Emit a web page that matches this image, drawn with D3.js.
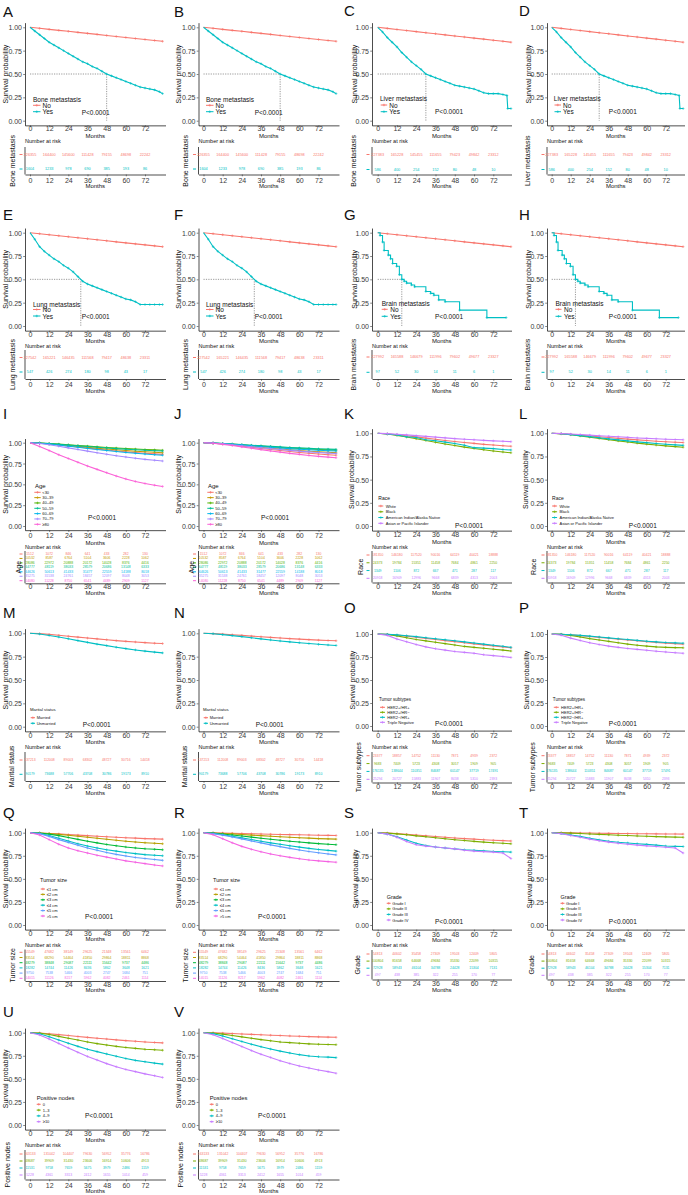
<!DOCTYPE html>
<html><head><meta charset="utf-8">
<script src="https://cdn.jsdelivr.net/npm/d3@7"></script>
<style>
body{margin:0;background:#fff;}
</style></head><body>
<svg id="fig" width="688" height="1195"></svg>
<script>
// ---------------- DATA ----------------
const xTicks = [0,12,24,36,48,60,72];
const yTicks = [0,0.25,0.5,0.75,1];
const riskMonths = [0,12,24,36,48,60,72];
const monthsGrid = [0,6,12,18,24,30,36,42,48,54,60,66,72,78,83];
const monthsFine = [0,3,6,9,12,15,18,21,24,27,30,33,36,39,42,45,48,51,54,57,60,63,66,69,72,75,78,81,83];
const monthsLiver = [0,3,6,9,12,15,18,21,24,27,30,33,36,39,42,45,48,51,54,57,60,63,66,69,72,75,78,80.5,81,83];
const monthsBrain = [0,1.5,3,4,6.6,8,9.3,11.8,13.5,15,16.5,18,21,23,30,33,35,38,42,51,68,80];

const pal2 = ["#F8766D","#00BFC4"];
const pal4 = ["#F8766D","#7CAE00","#00BFC4","#C77CFF"];
const pal6 = ["#F8766D","#B79F00","#00BA38","#00BFC4","#619CFF","#F564E3"];
const pal7 = ["#F8766D","#C49A00","#53B400","#00C094","#00B6EB","#A58AFF","#FB61D7"];

const strataMet = ["No","Yes"];
const strataAge = ["<30","30\u201339","40\u201349","50\u201359","60\u201369","70\u201379","\u226580"];
const strataRace = ["White","Black","American Indian/Alaska Native","Asian or Pacific Islander"];
const strataMarital = ["Married","Unmarried"];
const strataSubtype = ["HER2+/HR+","HER2+/HR\u2212","HER2\u2212/HR+","Triple Negative"];
const strataSize = ["\u22641 cm","\u22642 cm","\u22643 cm","\u22644 cm","\u22645 cm",">5 cm"];
const strataGrade = ["Grade I","Grade II","Grade III","Grade IV"];
const strataNodes = ["0","1\u20133","4\u20139","\u226510"];

const boneNo = [1,.989,.978,.967,.957,.946,.935,.924,.913,.902,.891,.880,.870,.859,.85];
const boneYes = [1,.96,.92,.88,.84,.81,.78,.75,.72,.69,.66,.63,.61,.58,.56,.53,.50,.48,.46,.44,.42,.40,.38,.36,.35,.34,.33,.31,.29];
const liverNo = [1,.988,.977,.965,.954,.942,.931,.919,.907,.896,.884,.873,.861,.850,.84];
const liverYes = [1,.95,.89,.84,.79,.73,.68,.63,.59,.55,.50,.48,.46,.44,.42,.40,.38,.37,.36,.35,.34,.32,.30,.29,.29,.29,.28,.27,.13,.13];
const lungNo = [1,.989,.978,.967,.957,.946,.935,.924,.913,.902,.891,.880,.870,.859,.85];
const lungYes = [1,.93,.85,.80,.76,.72,.69,.65,.62,.58,.53,.48,.45,.43,.41,.39,.37,.35,.33,.31,.29,.28,.26,.23,.23,.23,.23,.23,.23];
const brainNo = [1,.989,.978,.967,.957,.946,.935,.924,.913,.902,.891,.880,.870,.859,.85];
const brainYes = [1,.97,.90,.81,.76,.72,.67,.64,.55,.50,.48,.46,.44,.42,.37,.35,.33,.28,.26,.17,.09,.09];

const ageOS = [
 [1,.994,.985,.973,.961,.948,.936,.923,.912,.901,.891,.881,.873,.866,.86],
 [1,.995,.987,.977,.966,.956,.945,.934,.924,.915,.906,.898,.891,.885,.88],
 [1,.996,.990,.983,.975,.967,.959,.951,.943,.936,.930,.924,.918,.914,.91],
 [1,.996,.989,.981,.972,.963,.954,.945,.937,.929,.922,.915,.909,.904,.90],
 [1,.994,.984,.972,.958,.945,.931,.918,.906,.894,.883,.873,.864,.856,.85],
 [1,.991,.976,.958,.938,.919,.899,.879,.861,.844,.828,.813,.800,.789,.78],
 [1,.955,.905,.855,.81,.765,.72,.68,.64,.60,.565,.535,.51,.49,.475]];
const ageCSS = [
 [1,.994,.984,.972,.958,.945,.931,.918,.906,.894,.883,.873,.864,.856,.85],
 [1,.995,.987,.977,.966,.956,.945,.934,.924,.915,.906,.898,.891,.885,.88],
 [1,.996,.990,.983,.975,.967,.959,.951,.943,.936,.930,.924,.918,.914,.91],
 [1,.997,.991,.985,.978,.970,.963,.956,.950,.943,.938,.932,.927,.923,.92],
 [1,.996,.989,.981,.972,.963,.954,.945,.937,.929,.922,.915,.909,.904,.90],
 [1,.995,.986,.975,.964,.952,.940,.929,.918,.908,.899,.890,.882,.875,.87],
 [1,.993,.980,.966,.950,.933,.917,.901,.887,.872,.860,.847,.836,.827,.82]];
const raceOS = [
 [1,.994,.985,.973,.961,.948,.936,.923,.912,.901,.891,.881,.873,.866,.86],
 [1,.992,.977,.960,.941,.922,.903,.884,.868,.851,.836,.822,.809,.798,.79],
 [1,.993,.982,.962,.955,.93,.92,.905,.89,.872,.845,.84,.835,.825,.82],
 [1,.996,.990,.983,.975,.967,.959,.951,.943,.936,.930,.924,.918,.914,.91]];
const raceCSS = [
 [1,.996,.989,.981,.972,.963,.954,.945,.937,.929,.922,.915,.909,.904,.90],
 [1,.994,.984,.972,.958,.945,.931,.918,.906,.894,.883,.873,.864,.856,.85],
 [1,.995,.986,.975,.964,.952,.940,.929,.918,.908,.899,.890,.882,.875,.87],
 [1,.997,.992,.987,.980,.974,.968,.962,.956,.950,.945,.941,.936,.933,.93]];
const maritalOS = [
 [1,.996,.988,.979,.969,.959,.949,.940,.931,.922,.914,.907,.900,.894,.89],
 [1,.992,.977,.960,.941,.922,.903,.884,.868,.851,.836,.822,.809,.798,.79]];
const maritalCSS = [
 [1,.997,.991,.985,.978,.970,.963,.956,.950,.943,.938,.932,.927,.923,.92],
 [1,.995,.986,.975,.964,.952,.940,.929,.918,.908,.899,.890,.882,.875,.87]];
const subtypeOS = [
 [1,.996,.988,.977,.965,.952,.94,.928,.917,.905,.893,.882,.871,.86,.85],
 [1,.995,.98,.96,.94,.925,.91,.895,.88,.865,.855,.845,.835,.825,.815],
 [1,.997,.99,.981,.971,.96,.949,.938,.926,.914,.902,.89,.878,.866,.855],
 [1,.985,.945,.915,.885,.86,.84,.825,.81,.80,.79,.775,.765,.755,.745]];
const subtypeCSS = [
 [1,.997,.99,.982,.973,.963,.954,.944,.935,.926,.917,.909,.901,.895,.89],
 [1,.996,.985,.968,.95,.935,.92,.905,.89,.878,.868,.86,.855,.852,.85],
 [1,.998,.992,.985,.977,.968,.958,.949,.94,.931,.922,.914,.907,.903,.90],
 [1,.987,.955,.93,.905,.885,.868,.855,.843,.833,.823,.813,.805,.797,.79]];
const sizeOS = [
 [1,.997,.992,.987,.980,.974,.968,.962,.956,.950,.945,.941,.936,.933,.93],
 [1,.997,.991,.982,.972,.962,.951,.94,.929,.918,.908,.899,.891,.885,.88],
 [1,.995,.985,.968,.948,.928,.908,.89,.873,.858,.845,.835,.826,.82,.815],
 [1,.992,.97,.94,.91,.88,.855,.835,.815,.80,.785,.773,.762,.755,.75],
 [1,.99,.96,.925,.895,.865,.835,.81,.785,.765,.748,.732,.72,.71,.70],
 [1,.975,.925,.875,.835,.805,.78,.755,.735,.715,.695,.68,.665,.65,.64]];
const sizeCSS = [
 [1,.999,.997,.994,.992,.989,.986,.984,.981,.979,.977,.975,.973,.971,.97],
 [1,.997,.992,.987,.980,.974,.968,.962,.956,.950,.945,.941,.936,.933,.93],
 [1,.995,.986,.975,.964,.952,.940,.929,.918,.908,.899,.890,.882,.875,.87],
 [1,.992,.978,.962,.944,.926,.908,.89,.874,.858,.844,.83,.818,.808,.80],
 [1,.990,.974,.954,.933,.911,.890,.868,.849,.830,.813,.796,.782,.770,.76],
 [1,.978,.935,.89,.852,.82,.793,.77,.75,.733,.718,.705,.695,.687,.68]];
const gradeOS = [
 [1,.996,.990,.983,.975,.967,.959,.951,.943,.936,.930,.924,.918,.914,.91],
 [1,.995,.987,.977,.966,.956,.945,.934,.924,.915,.906,.898,.891,.885,.88],
 [1,.985,.955,.92,.885,.86,.845,.835,.825,.815,.81,.803,.797,.793,.79],
 [1,.985,.95,.905,.87,.855,.845,.835,.825,.81,.80,.795,.79,.78,.72]];
const gradeCSS = [
 [1,.999,.998,.997,.996,.994,.993,.992,.991,.989,.988,.987,.986,.986,.985],
 [1,.998,.995,.991,.986,.982,.977,.973,.969,.965,.961,.958,.955,.952,.95],
 [1,.99,.975,.96,.94,.922,.908,.897,.889,.881,.874,.865,.856,.852,.85],
 [1,.99,.97,.95,.93,.912,.898,.885,.875,.865,.857,.85,.843,.835,.78]];
const nodesOS = [
 [1,.996,.988,.979,.969,.959,.949,.940,.931,.922,.914,.907,.900,.894,.89],
 [1,.995,.98,.96,.94,.92,.90,.882,.866,.852,.84,.83,.82,.815,.81],
 [1,.988,.957,.92,.885,.852,.82,.795,.77,.745,.72,.70,.685,.67,.66],
 [1,.976,.932,.884,.835,.787,.743,.704,.665,.631,.602,.578,.554,.534,.515]];
const nodesCSS = [
 [1,.998,.995,.991,.986,.982,.977,.973,.969,.965,.961,.958,.955,.952,.95],
 [1,.996,.985,.97,.955,.94,.925,.912,.9,.892,.885,.879,.875,.872,.87],
 [1,.99,.965,.935,.905,.875,.848,.823,.8,.78,.762,.748,.74,.735,.73],
 [1,.978,.938,.894,.850,.806,.767,.732,.696,.666,.639,.617,.595,.578,.56]];

const riskBone = [[226355,164400,145600,111428,79155,48698,22242],[1604,1233,978,690,385,193,86]];
const riskLiver = [[227383,165228,145455,111655,79423,49842,23312],[586,400,254,152,80,48,10]];
const riskLung = [[227542,165221,146435,111568,79417,48638,23311],[547,426,274,180,98,43,17]];
const riskBrain = [[227992,165588,146679,111996,79602,49677,23327],[97,52,30,14,11,6,1]];
const riskAge = [[1512,1072,846,641,433,282,130],[10532,8587,6764,5104,3606,2228,1062],[28086,22972,20888,20172,14028,8376,4416],[64777,48119,38033,28579,20686,13148,6333],[64626,50613,41433,31477,22559,14188,8018],[35275,31538,24761,18457,12097,8048,3053],[14080,11228,8750,6541,4489,2909,1127]];
const riskRace = [[181350,146180,117520,90016,64119,40421,18888],[24373,19784,15351,11458,7684,4861,2250],[1349,1106,872,667,471,287,117],[20918,16909,12996,9668,6839,4313,2003]];
const riskMarital = [[137213,112008,89003,68302,48727,30716,14418],[90179,73688,57706,43708,30786,19173,8910]];
const riskSubtype = [[23377,18857,14752,11130,7871,4939,2372],[9683,7409,5723,4308,3057,1909,905],[176135,138644,110351,84687,60147,37719,17491],[25294,20727,15883,11907,8438,5310,2393]];
const riskSize = [[55549,47682,38149,29625,21348,13561,6462],[83514,68290,54464,41850,29864,18811,8868],[48279,38848,29087,22111,15642,9737,4486],[18282,14744,11426,8436,5862,3648,1621],[9750,7538,5466,4003,2747,1684,751],[14015,11126,8217,5962,4082,2461,1114]];
const riskGrade = [[54813,44602,35458,27309,19503,12409,5805],[100804,81658,64668,49684,35330,22099,10315],[72928,58943,46104,34788,24428,15304,7131],[497,438,385,322,255,170,77]];
const riskNodes = [[163133,131042,104407,79630,56952,35776,16786],[48687,39909,31430,23606,16914,10606,4913],[11531,9758,7659,5675,3979,2486,1159],[5228,4361,3313,2412,1655,1014,459]];

// ---------------- LAYOUT ----------------
const COLS = [
 {off:0,     ax0:25,    ax1:165.5, x0:30,    x72:145,   letterX:3},
 {off:173,   ax0:198.5, ax1:339,   x0:203.5, x72:318.5, letterX:174},
 {off:347.7, ax0:372,   ax1:511.5, x0:377.7, x72:493.3, letterX:344},
 {off:521.5, ax0:547,   ax1:684.5, x0:551.7, x72:665.7, letterX:519}
];
const LAY = {
 AB:{letterY:16.5, top:27.3, bot:120.7, xlabY:128.5, monthsY:135.5, narY:140.7, rows:[154.5,169], tTop:147, tAxis:174.5, tLabY:180.3, tMonthsY:185.7,
     legT:[33,99,6.5], legY:[105.3,111.7], key:[33,40.5], legX:42.5, legFs:6.5, p:[81.7,112.3], tLabX:12, spX:5, numFs:3.8},
 CD:{letterY:16, top:27.3, bot:120.7, xlabY:128.5, monthsY:135.5, narY:140.7, rows:[154.5,169.5], tTop:147, tAxis:174.5, tLabY:180.3, tMonthsY:185.7,
     legT:[32.3,98.7,6.5], legY:[105,111.7], key:[33,39.5], legX:41.6, legFs:6.5, p:[87.3,111.7], tLabX:5.5, spX:6.5, numFs:3.8},
 EF:{letterY:220, top:232.7, bot:326, xlabY:335, monthsY:340.5, narY:345.5, rows:[357.5,372], tTop:350, tAxis:379, tLabY:384.3, tMonthsY:391,
     legT:[33,304,6.5], legY:[309.5,316], key:[33,40.5], legX:42.5, legFs:6.5, p:[81.7,316], tLabX:12, spX:5, numFs:3.8},
 GH:{letterY:220, top:232.7, bot:326, xlabY:335, monthsY:340.5, narY:345.5, rows:[357,372.3], tTop:350, tAxis:379, tLabY:384.3, tMonthsY:391,
     legT:[34,303.3,6.5], legY:[309.3,316.3], key:[34,40], legX:42.5, legFs:6.5, p:[87.3,316.7], tLabX:5.5, spX:6.5, numFs:3.8},
 IJ:{letterY:419.3, top:442.7, bot:526, xlabY:535.5, monthsY:542.5, narY:547, rows:[554,580.7], tTop:551, tAxis:583.3, tLabY:587, tMonthsY:593,
     legT:[35,486,6], legY:[492.3,524.3], key:[34.3,40.7], legX:42.3, legFs:4, p:[88,517.3], tLabX:18, spX:5, numFs:3.4},
 KL:{letterY:419.3, top:433.3, bot:526, xlabY:535, monthsY:541.7, narY:547, rows:[555,578.3], tTop:551, tAxis:582.5, tLabY:586.5, tMonthsY:592.5,
     legT:[30.6,498.3,5], legY:[506,523.3], key:[30.6,35.6], legX:38, legFs:4, p:[107.3,525.7], tLabX:12.3, spX:4, numFs:3.4},
 MN:{letterY:618.3, top:633.3, bot:726.7, xlabY:735.7, monthsY:742, narY:747, rows:[760,774.3], tTop:752, tAxis:781, tLabY:786.7, tMonthsY:793,
     legT:[30,709,4.3], legY:[717.7,723.3], key:[30.7,35], legX:36.7, legFs:4, p:[82.7,724.3], tLabX:11.7, spX:5, numFs:3.4},
 OP:{letterY:613.3, top:634, bot:726, xlabY:736, monthsY:741.7, narY:746.7, rows:[755.7,779.3], tTop:752, tAxis:782.5, tLabY:786.7, tMonthsY:792.5,
     legT:[31.3,699,4.5], legY:[707.3,722.3], key:[32.3,37.3], legX:39.6, legFs:4, p:[87.3,723.3], tLabX:10.6, spX:5, numFs:3.4},
 QR:{letterY:818.3, top:832.7, bot:925, xlabY:934, monthsY:939, narY:945, rows:[952.3,978.3], tTop:949.5, tAxis:981, tLabY:984.3, tMonthsY:989.5,
     legT:[40,880,5.5], legY:[889,916], key:[40.7,45], legX:46.7, legFs:4, p:[85,916], tLabX:12, spX:5, numFs:3.4},
 ST:{letterY:818.3, top:832.7, bot:925, xlabY:935, monthsY:940, narY:945, rows:[954,975.3], tTop:950, tAxis:979.5, tLabY:983.5, tMonthsY:990,
     legT:[39,896.7,5.4], legY:[903.3,920], key:[39,43], legX:44.6, legFs:4, p:[87.3,921.7], tLabX:10, spX:8, numFs:3.4},
 UV:{letterY:1016.7, top:1032.7, bot:1125, xlabY:1134, monthsY:1140, narY:1145, rows:[1154,1175], tTop:1150, tAxis:1179.5, tLabY:1185, tMonthsY:1191,
     legT:[36.7,1098.3,5.8], legY:[1104.3,1121.7], key:[36.7,40.7], legX:42.7, legFs:4, p:[85,1115.7], tLabX:7, spX:5, numFs:3.4}
};

function grid(arrs){ return arrs.map(v=>({t:monthsGrid, v:v})); }

const panels = [
 {id:"A", col:0, lay:"AB", title:"Bone metastasis", strata:strataMet, colors:pal2, series:[{t:monthsGrid,v:boneNo},{t:monthsFine,v:boneYes}], median:true, risk:riskBone, tLabel:"Bone metastasis"},
 {id:"B", col:1, lay:"AB", title:"Bone metastasis", strata:strataMet, colors:pal2, series:[{t:monthsGrid,v:boneNo},{t:monthsFine,v:boneYes}], median:true, risk:riskBone, tLabel:"Bone metastasis"},
 {id:"C", col:2, lay:"CD", title:"Liver metastasis", strata:strataMet, colors:pal2, series:[{t:monthsGrid,v:liverNo},{t:monthsLiver,v:liverYes}], median:true, risk:riskLiver, tLabel:"Bone metastasis"},
 {id:"D", col:3, lay:"CD", title:"Liver metastasis", strata:strataMet, colors:pal2, series:[{t:monthsGrid,v:liverNo},{t:monthsLiver,v:liverYes}], median:true, risk:riskLiver, tLabel:"Liver metastasis"},
 {id:"E", col:0, lay:"EF", title:"Lung metastasis", strata:strataMet, colors:pal2, series:[{t:monthsGrid,v:lungNo},{t:monthsFine,v:lungYes}], median:true, risk:riskLung, tLabel:"Lung metastasis"},
 {id:"F", col:1, lay:"EF", title:"Lung metastasis", strata:strataMet, colors:pal2, series:[{t:monthsGrid,v:lungNo},{t:monthsFine,v:lungYes}], median:true, risk:riskLung, tLabel:"Lung metastasis"},
 {id:"G", col:2, lay:"GH", title:"Brain metastasis", strata:strataMet, colors:pal2, series:[{t:monthsGrid,v:brainNo},{t:monthsBrain,v:brainYes,step:true}], median:true, risk:riskBrain, tLabel:"Brain metastasis"},
 {id:"H", col:3, lay:"GH", title:"Brain metastasis", strata:strataMet, colors:pal2, series:[{t:monthsGrid,v:brainNo},{t:monthsBrain,v:brainYes,step:true}], median:true, risk:riskBrain, tLabel:"Brain metastasis"},
 {id:"I", col:0, lay:"IJ", title:"Age", strata:strataAge, colors:pal7, series:grid(ageOS), risk:riskAge, tLabel:"Age"},
 {id:"J", col:1, lay:"IJ", title:"Age", strata:strataAge, colors:pal7, series:grid(ageCSS), risk:riskAge, tLabel:"Age"},
 {id:"K", col:2, lay:"KL", title:"Race", strata:strataRace, colors:pal4, series:grid(raceOS), risk:riskRace, tLabel:"Race"},
 {id:"L", col:3, lay:"KL", title:"Race", strata:strataRace, colors:pal4, series:grid(raceCSS), risk:riskRace, tLabel:"Race"},
 {id:"M", col:0, lay:"MN", title:"Marital status", strata:strataMarital, colors:pal2, series:grid(maritalOS), risk:riskMarital, tLabel:"Marital status"},
 {id:"N", col:1, lay:"MN", title:"Marital status", strata:strataMarital, colors:pal2, series:grid(maritalCSS), risk:riskMarital, tLabel:"Marital status"},
 {id:"O", col:2, lay:"OP", title:"Tumor subtypes", strata:strataSubtype, colors:pal4, series:grid(subtypeOS), risk:riskSubtype, tLabel:"Tumor subtypes"},
 {id:"P", col:3, lay:"OP", title:"Tumor subtypes", strata:strataSubtype, colors:pal4, series:grid(subtypeCSS), risk:riskSubtype, tLabel:"Tumor subtypes"},
 {id:"Q", col:0, lay:"QR", title:"Tumor size", strata:strataSize, colors:pal6, series:grid(sizeOS), risk:riskSize, tLabel:"Tumor size"},
 {id:"R", col:1, lay:"QR", title:"Tumor size", strata:strataSize, colors:pal6, series:grid(sizeCSS), risk:riskSize, tLabel:"Tumor size"},
 {id:"S", col:2, lay:"ST", title:"Grade", strata:strataGrade, colors:pal4, series:grid(gradeOS), risk:riskGrade, tLabel:"Grade"},
 {id:"T", col:3, lay:"ST", title:"Grade", strata:strataGrade, colors:pal4, series:grid(gradeCSS), risk:riskGrade, tLabel:"Grade"},
 {id:"U", col:0, lay:"UV", title:"Positive nodes", strata:strataNodes, colors:pal4, series:grid(nodesOS), risk:riskNodes, tLabel:"Positive nodes"},
 {id:"V", col:1, lay:"UV", title:"Positive nodes", strata:strataNodes, colors:pal4, series:grid(nodesCSS), risk:riskNodes, tLabel:"Positive nodes"}
];

// ---------------- DRAW ----------------
const FONT = '"Liberation Sans", Arial, Helvetica, sans-serif';
const svg = d3.select("#fig");
svg.append("rect").attr("width",688).attr("height",1195).attr("fill","#fff");

function plus(g, cx, cy, s, color, sw){
  g.append("path").attr("d",`M${cx-s},${cy}H${cx+s}M${cx},${cy-s}V${cy+s}`)
   .attr("stroke",color).attr("stroke-width",sw).attr("fill","none");
}
function styleAxis(a){
  a.attr("font-size",7).attr("font-family",FONT);
  a.select(".domain").attr("stroke","#000").attr("stroke-width",0.7);
  a.selectAll(".tick line").attr("stroke","#333").attr("stroke-width",0.6);
  a.selectAll(".tick text").attr("fill","#3a3a3a");
}
function median(s){
  for(let i=0;i<s.v.length;i++){
    if(s.v[i]<=0.5){
      if(s.step || s.v[i]===0.5 || i===0) return s.t[i];
      const t0=s.t[i-1], t1=s.t[i], v0=s.v[i-1], v1=s.v[i];
      return t0 + (t1-t0)*(v0-0.5)/(v0-v1);
    }
  }
  return null;
}

function drawPanel(p){
  const L = LAY[p.lay], C = COLS[p.col], ox = C.off;
  const k = (C.x72 - C.x0)/72;
  const x = d3.scaleLinear().domain([(C.ax0-C.x0)/k, (C.ax1-C.x0)/k]).range([C.ax0, C.ax1]);
  const h = L.bot - L.top;
  const y = d3.scaleLinear().domain([-0.05,1.05]).range([L.bot+0.05*h, L.top-0.05*h]);
  const g = svg.append("g").attr("font-family",FONT);

  g.append("text").attr("x",C.letterX).attr("y",L.letterY).attr("font-size",15).attr("fill","#111").text(p.id);

  const axY = y(-0.05);
  const xa = g.append("g").attr("transform",`translate(0,${axY})`)
    .call(d3.axisBottom(x).tickValues(xTicks).tickSize(1.8).tickSizeOuter(0));
  styleAxis(xa);
  xa.selectAll(".tick text").attr("dy",null).attr("y",L.xlabY-axY).attr("dominant-baseline","central");

  const ya = g.append("g").attr("transform",`translate(${C.ax0},0)`)
    .call(d3.axisLeft(y).tickValues(yTicks).tickFormat(d3.format(".2f")).tickSize(1.8).tickSizeOuter(0).tickPadding(1.2));
  styleAxis(ya);
  ya.selectAll(".tick text").attr("dy",null).attr("dominant-baseline","central");

  g.append("text").attr("x",(C.ax0+C.ax1)/2).attr("y",L.monthsY).attr("text-anchor","middle")
   .attr("dominant-baseline","central").attr("font-size",6).attr("fill","#111").text("Months");
  g.append("text").attr("transform",`translate(${ox+L.spX},${(L.top+L.bot)/2}) rotate(-90)`)
   .attr("text-anchor","middle").attr("dominant-baseline","central").attr("font-size",7).attr("fill","#111")
   .text("Survival probability");

  // median lines
  if(p.median){
    const m = median(p.series[1]);
    if(m!==null){
      g.append("path").attr("d",`M${x(0)},${y(0.5)}H${x(m)}V${y(0)}`).attr("fill","none")
       .attr("stroke","#555").attr("stroke-width",0.6).attr("stroke-dasharray","1.2,1.2");
    }
  }

  // curves
  p.series.forEach((s,i)=>{
    const pts = s.t.map((t,j)=>[t,s.v[j]]);
    const line = d3.line().x(d=>x(d[0])).y(d=>y(d[1])).curve(s.step?d3.curveStepAfter:d3.curveLinear);
    g.append("path").attr("d",line(pts)).attr("fill","none").attr("stroke",p.colors[i]).attr("stroke-width",1.1);
    pts.slice(1).forEach(d=>plus(g, x(d[0]), y(d[1]), 1.3, p.colors[i], 0.6));
  });

  // legend
  g.append("text").attr("x",ox+L.legT[0]).attr("y",L.legT[1]).attr("font-size",L.legT[2])
   .attr("dominant-baseline","central").attr("fill","#111").text(p.title);
  const ly = d3.scalePoint().domain(p.strata).range(L.legY);
  p.strata.forEach((s,i)=>{
    const yy = ly(s);
    g.append("line").attr("x1",ox+L.key[0]).attr("x2",ox+L.key[1]).attr("y1",yy).attr("y2",yy)
     .attr("stroke",p.colors[i]).attr("stroke-width",1);
    plus(g,(ox+L.key[0]+ox+L.key[1])/2,yy,1.3,p.colors[i],0.6);
    g.append("text").attr("x",ox+L.legX).attr("y",yy).attr("font-size",L.legFs)
     .attr("dominant-baseline","central").attr("fill","#111").text(s);
  });

  g.append("text").attr("x",ox+L.p[0]).attr("y",L.p[1]).attr("font-size",6.5)
   .attr("dominant-baseline","central").attr("fill","#111").text("P<0.0001");

  // risk table
  g.append("text").attr("x",C.ax0).attr("y",L.narY).attr("font-size",5.5)
   .attr("dominant-baseline","central").attr("fill","#111").text("Number at risk");
  g.append("line").attr("x1",C.ax0).attr("x2",C.ax0).attr("y1",L.tTop).attr("y2",L.tAxis)
   .attr("stroke","#000").attr("stroke-width",0.7);
  const ta = g.append("g").attr("transform",`translate(0,${L.tAxis})`)
    .call(d3.axisBottom(x).tickValues(xTicks).tickSize(1.8).tickSizeOuter(0));
  styleAxis(ta);
  ta.selectAll(".tick text").attr("dy",null).attr("y",L.tLabY-L.tAxis).attr("dominant-baseline","central");
  g.append("text").attr("x",(C.ax0+C.ax1)/2).attr("y",L.tMonthsY).attr("text-anchor","middle")
   .attr("dominant-baseline","central").attr("font-size",6).attr("fill","#111").text("Months");
  const ry = d3.scalePoint().domain(p.strata).range(L.rows);
  p.strata.forEach((s,i)=>{
    const yy = ry(s);
    g.append("line").attr("x1",C.ax0-5.5).attr("x2",C.ax0-2.5).attr("y1",yy).attr("y2",yy)
     .attr("stroke",p.colors[i]).attr("stroke-width",1);
    p.risk[i].forEach((n,j)=>{
      g.append("text").attr("x",x(riskMonths[j])).attr("y",yy).attr("text-anchor","middle")
       .attr("dominant-baseline","central").attr("font-size",L.numFs).attr("fill",p.colors[i]).text(n);
    });
  });
  g.append("text").attr("transform",`translate(${ox+L.tLabX},${(L.tTop+L.tAxis)/2}) rotate(-90)`)
   .attr("text-anchor","middle").attr("dominant-baseline","central").attr("font-size",7).attr("fill","#111")
   .text(p.tLabel);
}

panels.forEach(drawPanel);
</script>
</body></html>
